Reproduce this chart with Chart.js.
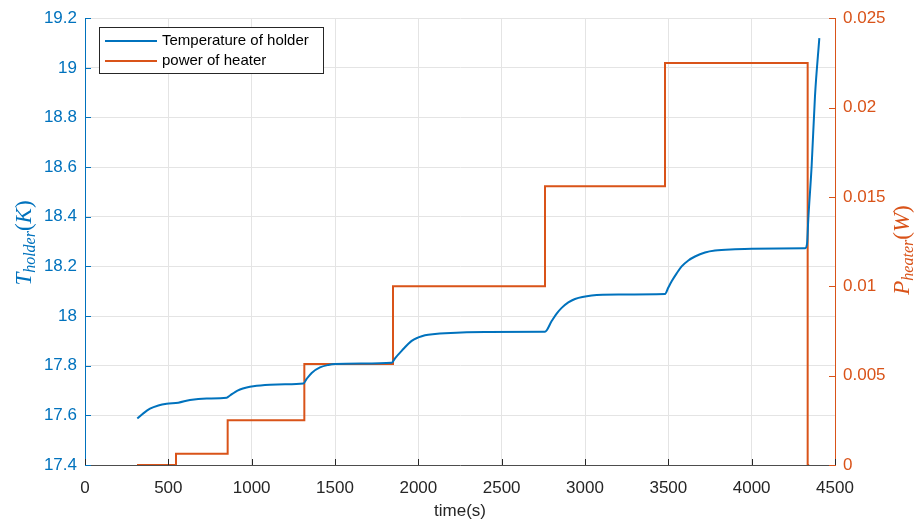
<!DOCTYPE html>
<html>
<head>
<meta charset="utf-8">
<script src="https://cdn.jsdelivr.net/npm/chart.js@4"></script>
<style>
  html, body { margin: 0; padding: 0; background: #fff; }
</style>
</head>
<body>
<canvas id="myChart" width="923" height="522"></canvas>
<script>
// temperature of holder
const timeTemp = [314, 350, 390, 440, 490, 560, 630, 730, 850, 870, 900, 930, 970, 1010, 1110, 1200, 1310,
  1330, 1360, 1410, 1460, 1500, 1660, 1840, 1860, 1900, 1960, 2000, 2040, 2100, 2160, 2400, 2760,
  2800, 2830, 2860, 2900, 2940, 3040, 3200, 3480, 3500, 3520, 3550, 3580, 3620, 3660, 3720, 3780,
  3900, 4000, 4320, 4332, 4340, 4360, 4380, 4406];
const tempHolder = [17.587, 17.608, 17.627, 17.640, 17.647, 17.651, 17.662, 17.668, 17.671, 17.680, 17.694, 17.704, 17.712, 17.717, 17.723, 17.725, 17.728,
  17.747, 17.771, 17.793, 17.803, 17.807, 17.809, 17.812, 17.830, 17.860, 17.900, 17.914, 17.923, 17.928, 17.931, 17.936, 17.937,
  17.980, 18.010, 18.033, 18.055, 18.069, 18.083, 18.087, 18.089, 18.115, 18.140, 18.172, 18.200, 18.224, 18.240, 18.256, 18.264,
  18.269, 18.271, 18.273, 18.290, 18.393, 18.607, 18.887, 19.120];

// power of heater (steps)
const timePower = [312, 546, 856, 1316, 1848, 2760, 3480, 4336, 4345];
const powerHeater = [0, 0.00063, 0.0025, 0.00565, 0.01, 0.0156, 0.0225, 0, 0];

const xTicks = [0, 500, 1000, 1500, 2000, 2500, 3000, 3500, 4000, 4500];
const leftTicks = [17.4, 17.6, 17.8, 18, 18.2, 18.4, 18.6, 18.8, 19, 19.2];
const rightTicks = [0, 0.005, 0.01, 0.015, 0.02, 0.025];

const blue = '#0072BD';
const orange = '#D95319';
const axisFont = { family: 'Liberation Sans, Arial, sans-serif', size: 17 };

function toPoints(xs, ys) {
  return xs.map((x, i) => ({ x: x, y: ys[i] }));
}

// y axis titles with subscripts, rotated
function drawMathLabel(ctx, cx, cy, parts, color) {
  ctx.save();
  ctx.translate(cx, cy);
  ctx.rotate(-Math.PI / 2);
  ctx.fillStyle = color;
  ctx.textBaseline = 'middle';
  ctx.textAlign = 'left';
  let total = 0;
  parts.forEach(p => {
    ctx.font = p.font;
    total += ctx.measureText(p.t).width;
  });
  let x = -total / 2;
  parts.forEach(p => {
    ctx.font = p.font;
    ctx.fillText(p.t, x, p.dy || 0);
    x += ctx.measureText(p.t).width;
  });
  ctx.restore();
}

const decor = {
  id: 'decor',
  afterDraw(chart) {
    const ctx = chart.ctx;
    const xs = chart.scales.x, yl = chart.scales.y, yr = chart.scales.y1;
    const area = chart.chartArea;
    ctx.save();
    ctx.lineWidth = 1;
    // inward ticks
    ctx.strokeStyle = '#262626';
    xTicks.forEach(v => {
      const px = Math.round(xs.getPixelForValue(v)) + 0.5;
      ctx.beginPath(); ctx.moveTo(px, area.bottom); ctx.lineTo(px, area.bottom - 6); ctx.stroke();
    });
    ctx.strokeStyle = blue;
    leftTicks.forEach(v => {
      const py = Math.round(yl.getPixelForValue(v)) + 0.5;
      ctx.beginPath(); ctx.moveTo(area.left, py); ctx.lineTo(area.left + 6, py); ctx.stroke();
    });
    ctx.strokeStyle = orange;
    rightTicks.forEach(v => {
      const py = Math.round(yr.getPixelForValue(v)) + 0.5;
      ctx.beginPath(); ctx.moveTo(area.right, py); ctx.lineTo(area.right - 6, py); ctx.stroke();
    });

    // legend box
    const lx = 99.5, ly = 27.5, lw = 224, lh = 46;
    ctx.fillStyle = '#fff';
    ctx.fillRect(lx, ly, lw, lh);
    ctx.strokeStyle = '#262626';
    ctx.strokeRect(lx, ly, lw, lh);
    const items = chart.data.datasets;
    ctx.font = '15px Liberation Sans, Arial, sans-serif';
    ctx.textBaseline = 'middle';
    items.forEach((ds, i) => {
      const yy = 41 + i * 20;
      ctx.strokeStyle = ds.borderColor;
      ctx.lineWidth = 2;
      ctx.beginPath(); ctx.moveTo(105, yy); ctx.lineTo(157, yy); ctx.stroke();
      ctx.fillStyle = '#000';
      ctx.fillText(ds.label, 162, yy);
    });

    // axis titles
    const it = 'italic 23px Liberation Serif, serif';
    const up = '23px Liberation Serif, serif';
    const sub = 'italic 16px Liberation Serif, serif';
    drawMathLabel(ctx, 25, 243, [
      { t: 'T', font: it }, { t: 'holder', font: sub, dy: 6 },
      { t: '(', font: up }, { t: 'K', font: it }, { t: ')', font: up }
    ], blue);
    drawMathLabel(ctx, 903, 250, [
      { t: 'P', font: it }, { t: 'heater', font: sub, dy: 6 },
      { t: '(', font: up }, { t: 'W', font: it }, { t: ')', font: up }
    ], orange);
    ctx.restore();
  }
};

const ctx1 = document.getElementById('myChart');
myChart = new Chart(ctx1, {
  type: 'line',
  data: {
    datasets: [
      {
        label: 'Temperature of holder',
        data: toPoints(timeTemp, tempHolder),
        borderColor: blue,
        borderWidth: 2,
        pointRadius: 0,
        cubicInterpolationMode: 'monotone',
        yAxisID: 'y'
      },
      {
        label: 'power of heater',
        data: toPoints(timePower, powerHeater),
        borderColor: orange,
        borderWidth: 2,
        pointRadius: 0,
        stepped: 'before',
        yAxisID: 'y1'
      }
    ]
  },
  options: {
    responsive: false,
    animation: false,
    devicePixelRatio: 1,
    layout: { padding: { top: 14, left: 0, right: 0, bottom: 0 } },
    plugins: { legend: { display: false }, tooltip: { enabled: false } },
    scales: {
      x: {
        type: 'linear',
        min: 0, max: 4500,
        afterBuildTicks: s => { s.ticks = xTicks.map(v => ({ value: v })); },
        afterFit: s => { s.height = 57; },
        grid: { color: '#e4e4e4', drawTicks: false },
        border: { color: '#4d4d4d' },
        ticks: { color: '#262626', font: axisFont, padding: 13, maxRotation: 0, autoSkip: false, callback: v => String(v) },
        title: { display: true, text: 'time(s)', color: '#262626', font: axisFont, padding: { top: 0, bottom: 0 } }
      },
      y: {
        position: 'left',
        min: 17.4, max: 19.2,
        afterBuildTicks: s => { s.ticks = leftTicks.map(v => ({ value: v })); },
        afterFit: s => { s.width = 85; },
        grid: { color: '#e4e4e4', drawTicks: false },
        border: { color: blue },
        ticks: { color: blue, font: axisFont, padding: 8, callback: v => String(Number(v.toFixed(1))) }
      },
      y1: {
        position: 'right',
        min: 0, max: 0.025,
        afterBuildTicks: s => { s.ticks = rightTicks.map(v => ({ value: v })); },
        afterFit: s => { s.width = 88; },
        grid: { drawOnChartArea: false, drawTicks: false },
        border: { color: orange },
        ticks: { color: orange, font: axisFont, padding: 8, callback: v => String(Number(v.toFixed(3))) }
      }
    }
  },
  plugins: [decor]
});
</script>
</body>
</html>
